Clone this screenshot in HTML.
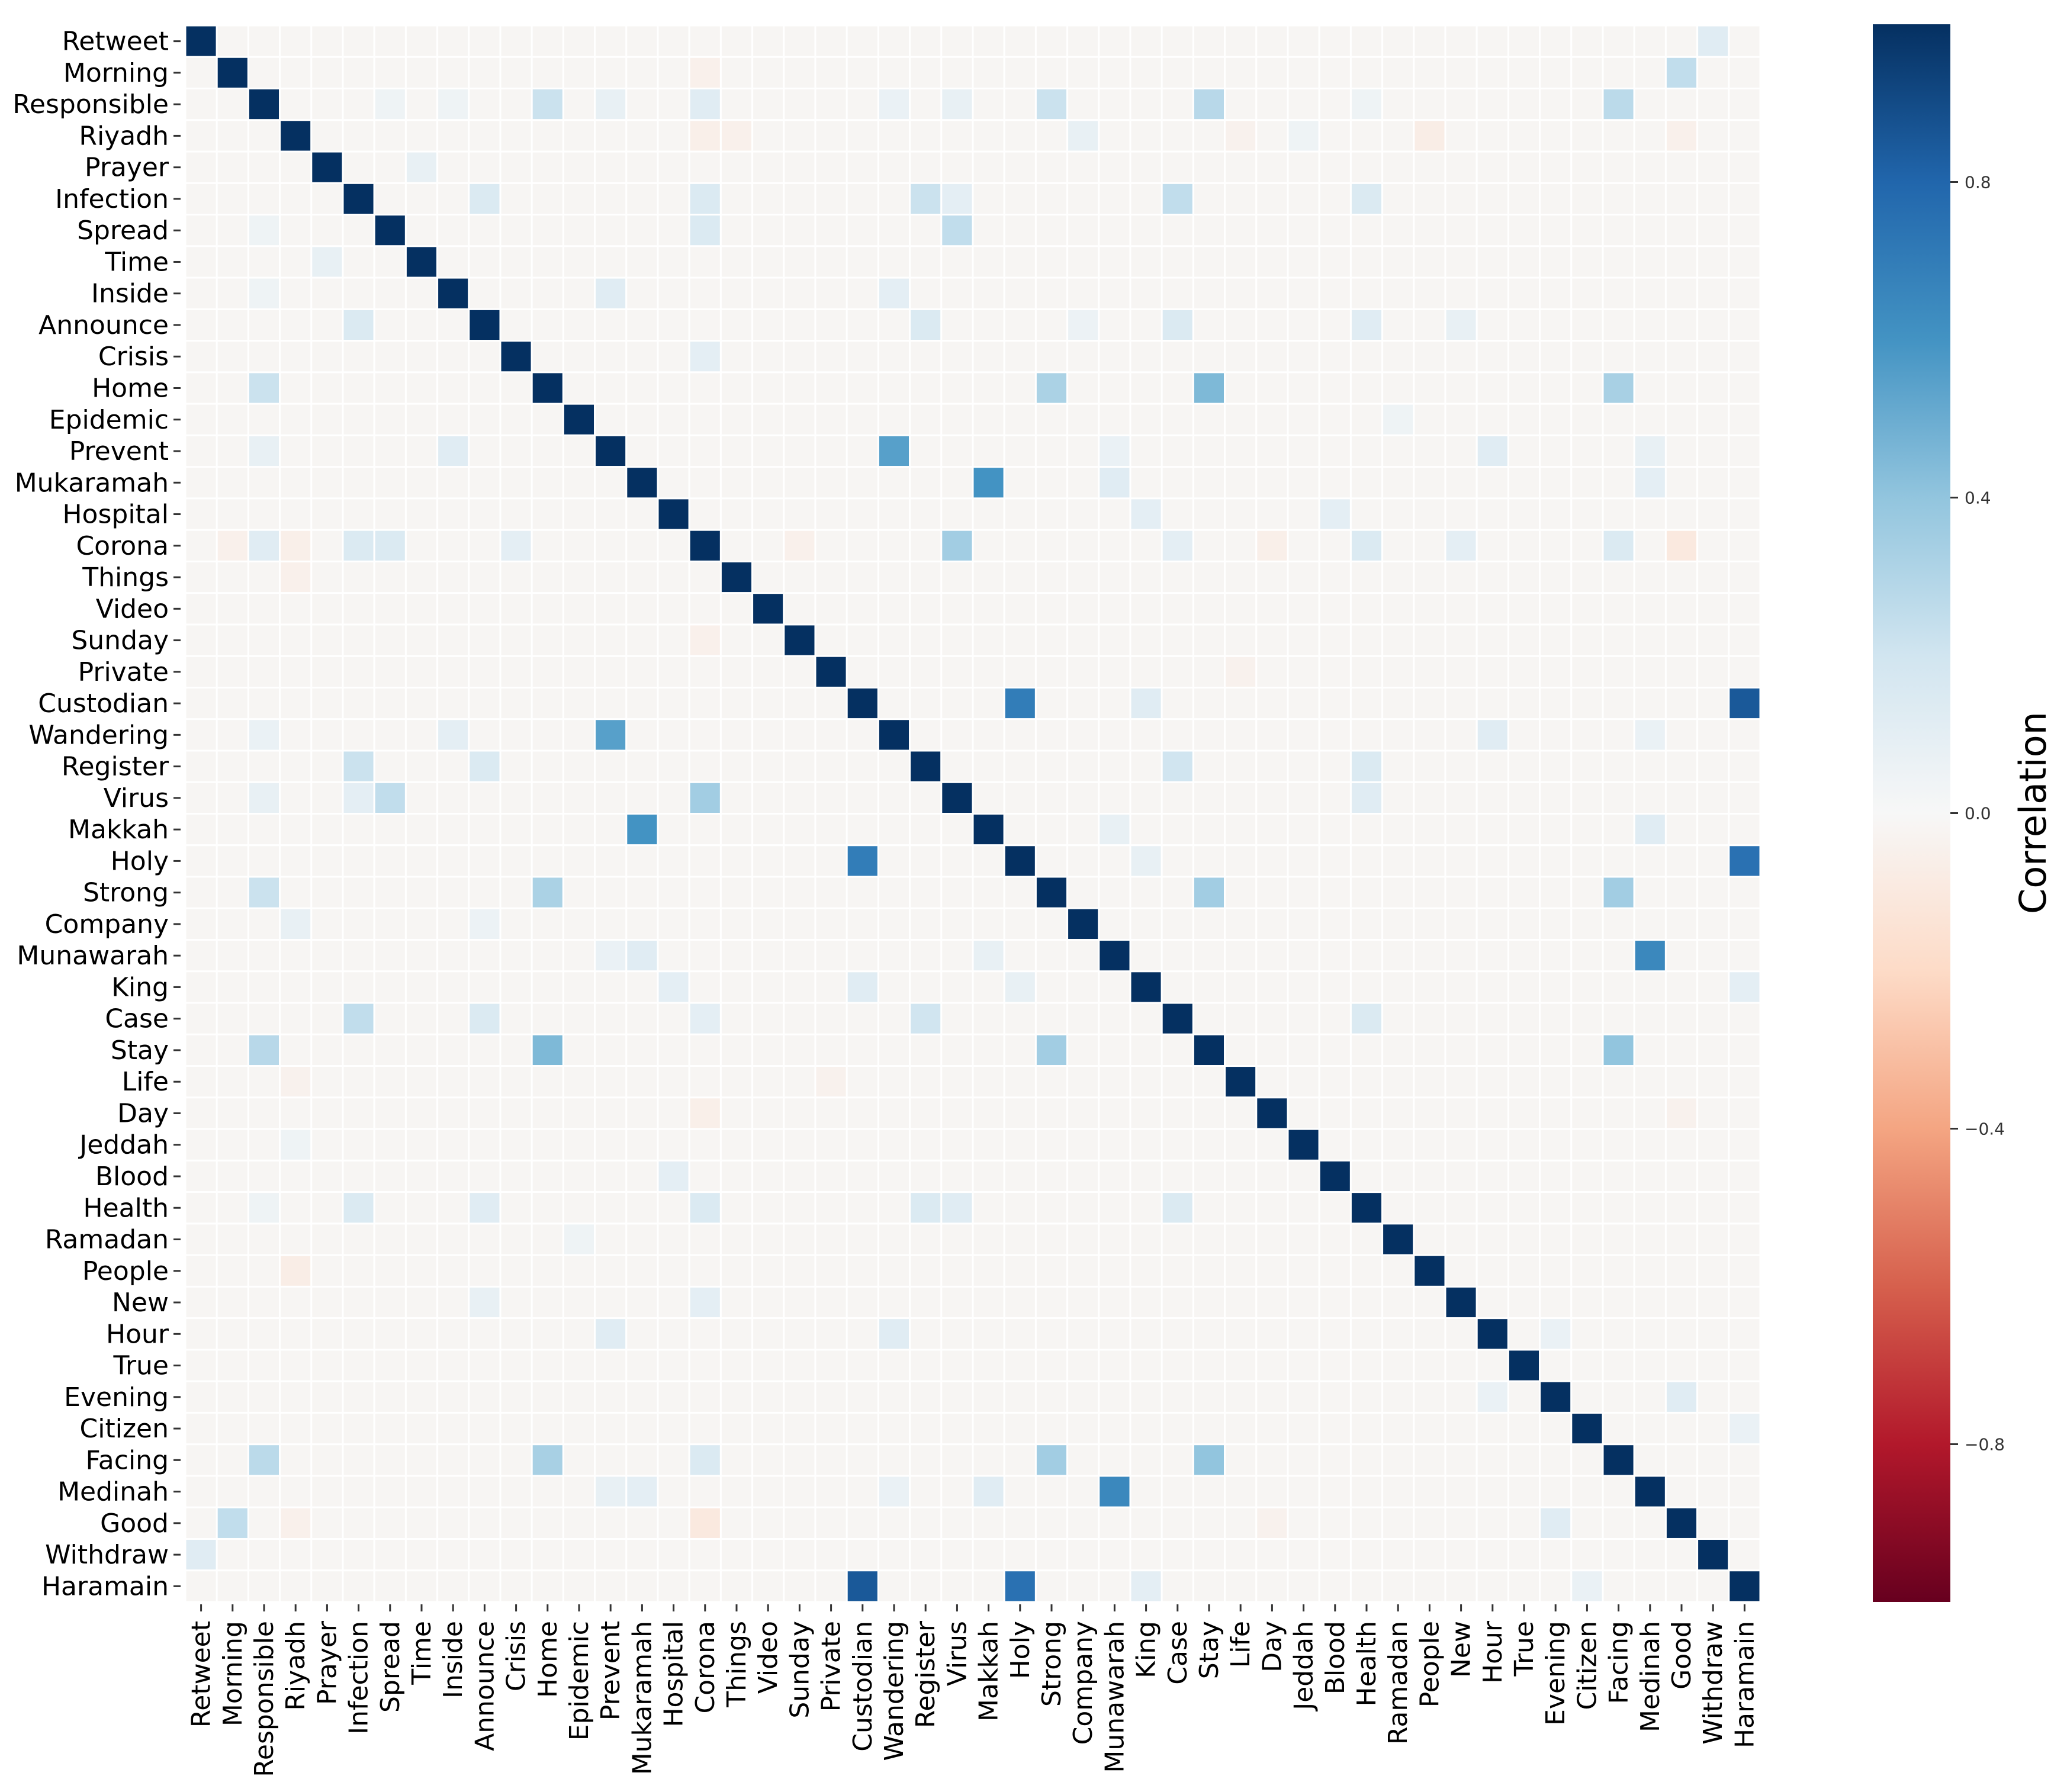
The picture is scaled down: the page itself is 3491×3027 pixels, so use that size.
<!DOCTYPE html>
<html><head><meta charset="utf-8"><style>body{margin:0;background:#fff}svg{display:block}text{font-family:"DejaVu Sans","Liberation Sans",sans-serif}</style></head>
<body>
<svg id="chart" width="3491" height="3027" xmlns="http://www.w3.org/2000/svg">
<defs><linearGradient id="cg" x1="0" y1="1" x2="0" y2="0">
<stop offset="0" stop-color="#67001f"/><stop offset="0.1" stop-color="#b2182b"/><stop offset="0.2" stop-color="#d6604d"/><stop offset="0.3" stop-color="#f4a582"/><stop offset="0.4" stop-color="#fddbc7"/><stop offset="0.5" stop-color="#f7f7f7"/><stop offset="0.6" stop-color="#d1e5f0"/><stop offset="0.7" stop-color="#92c5de"/><stop offset="0.8" stop-color="#4393c3"/><stop offset="0.9" stop-color="#2166ac"/><stop offset="1" stop-color="#053061"/></linearGradient></defs>
<g id="cells"></g>
<g id="ylabels"></g>
<g id="xlabels"></g>
<g>
<rect x="3163" y="41" width="131" height="2665" fill="url(#cg)"/>
<g id="cbticks"></g>
<text x="3455" y="1373" font-size="62" text-anchor="middle" transform="rotate(-90 3455 1373)">Correlation</text>
</g>
</svg>
<script>
const labels=["Retweet","Morning","Responsible","Riyadh","Prayer","Infection","Spread","Time","Inside","Announce","Crisis","Home","Epidemic","Prevent","Mukaramah","Hospital","Corona","Things","Video","Sunday","Private","Custodian","Wandering","Register","Virus","Makkah","Holy","Strong","Company","Munawarah","King","Case","Stay","Life","Day","Jeddah","Blood","Health","Ramadan","People","New","Hour","True","Evening","Citizen","Facing","Medinah","Good","Withdraw","Haramain"];
const pairA=["Retweet","Morning","Morning","Responsible","Responsible","Responsible","Responsible","Responsible","Responsible","Responsible","Responsible","Responsible","Responsible","Responsible","Riyadh","Riyadh","Riyadh","Riyadh","Riyadh","Riyadh","Riyadh","Prayer","Infection","Infection","Infection","Infection","Infection","Infection","Spread","Spread","Inside","Inside","Announce","Announce","Announce","Announce","Announce","Crisis","Home","Home","Home","Epidemic","Prevent","Prevent","Prevent","Prevent","Mukaramah","Mukaramah","Mukaramah","Hospital","Hospital","Corona","Corona","Corona","Corona","Corona","Corona","Custodian","Custodian","Custodian","Wandering","Wandering","Register","Register","Virus","Makkah","Makkah","Holy","Holy","Strong","Strong","Munawarah","King","Case","Stay","Hour","Evening","Citizen","Corona","Corona","Day","Life"];
const pairB=["Withdraw","Good","Corona","Home","Strong","Stay","Facing","Prevent","Corona","Virus","Wandering","Spread","Inside","Health","Corona","People","Company","Things","Good","Jeddah","Life","Time","Announce","Corona","Register","Virus","Case","Health","Corona","Virus","Prevent","Wandering","Register","Case","Health","New","Company","Corona","Strong","Stay","Facing","Ramadan","Wandering","Hour","Medinah","Munawarah","Makkah","Munawarah","Medinah","King","Blood","Virus","Health","Case","Facing","Good","New","Holy","Haramain","King","Hour","Medinah","Case","Health","Health","Medinah","Munawarah","Haramain","King","Stay","Facing","Medinah","Haramain","Health","Facing","Evening","Good","Haramain","Day","Sunday","Good","Private"];
const pairV=[0.12,0.25,-0.05,0.22,0.22,0.28,0.27,0.08,0.12,0.08,0.07,0.05,0.05,0.05,-0.06,-0.07,0.08,-0.05,-0.05,0.05,-0.04,0.08,0.15,0.15,0.22,0.1,0.25,0.15,0.15,0.25,0.12,0.1,0.15,0.15,0.12,0.08,0.06,0.1,0.32,0.45,0.33,0.05,0.55,0.12,0.08,0.07,0.6,0.12,0.1,0.1,0.1,0.35,0.15,0.1,0.15,-0.1,0.1,0.7,0.85,0.12,0.12,0.07,0.2,0.15,0.12,0.12,0.08,0.75,0.08,0.35,0.35,0.65,0.1,0.15,0.4,0.07,0.12,0.07,-0.06,-0.05,-0.04,-0.04];
const cbTicks=[0.8,0.4,0.0,-0.4,-0.8];
const cbTickLabels=["0.8","0.4","0.0","\u22120.4","\u22120.8"];
const baseV=-0.015;

const NS="http://www.w3.org/2000/svg";
const X0=313,Y0=43,W=2660,H=2663,n=labels.length,cw=W/n,ch=H/n;
const xs=i=>X0+i*cw, ys=i=>Y0+i*ch, cy=v=>41+(1-v)/2*2665;
const stops=["#67001f","#b2182b","#d6604d","#f4a582","#fddbc7","#f7f7f7","#d1e5f0","#92c5de","#4393c3","#2166ac","#053061"];
function hex(h){return [1,3,5].map(k=>parseInt(h.substr(k,2),16));}
function color(v){let t=(Math.max(-1,Math.min(1,v))+1)/2*10;let k=Math.min(9,Math.floor(t));let f=t-k;let a=hex(stops[k]),b=hex(stops[k+1]);return "rgb("+a.map((c,i)=>Math.round(c+(b[i]-c)*f)).join(",")+")";}
const M=[];for(let i=0;i<n;i++){M.push([]);for(let j=0;j<n;j++)M[i].push(i===j?1:baseV);}
pairA.forEach((a,k)=>{const i=labels.indexOf(a),j=labels.indexOf(pairB[k]);M[i][j]=pairV[k];M[j][i]=pairV[k];});
const g=document.getElementById('cells');
for(let i=0;i<n;i++)for(let j=0;j<n;j++){const r=document.createElementNS(NS,'rect');
r.setAttribute('x',xs(j));r.setAttribute('y',ys(i));r.setAttribute('width',cw);r.setAttribute('height',ch);
r.setAttribute('fill',color(M[i][j]));r.setAttribute('stroke','#fff');r.setAttribute('stroke-width','3');


g.appendChild(r);}
const yl=document.getElementById('ylabels'),xl=document.getElementById('xlabels');
labels.forEach((l,i)=>{
const t=document.createElementNS(NS,'text');t.setAttribute('x',X0-28);t.setAttribute('y',ys(i)+ch/2+15);t.setAttribute('text-anchor','end');t.setAttribute('font-size','44');t.textContent=l;


yl.appendChild(t);
const tk=document.createElementNS(NS,'line');tk.setAttribute('x1',X0-20);tk.setAttribute('x2',X0-8);tk.setAttribute('y1',ys(i)+ch/2);tk.setAttribute('y2',ys(i)+ch/2);tk.setAttribute('stroke','#333');tk.setAttribute('stroke-width','3');


yl.appendChild(tk);
const xx=xs(i)+cw/2;
const u=document.createElementNS(NS,'text');u.setAttribute('x',xx+15);u.setAttribute('y',2738);u.setAttribute('text-anchor','end');u.setAttribute('font-size','44');u.setAttribute('transform','rotate(-90 '+(xx+15)+' 2738)');u.textContent=l;


xl.appendChild(u);
const tx=document.createElementNS(NS,'line');tx.setAttribute('x1',xx);tx.setAttribute('x2',xx);tx.setAttribute('y1',2710);tx.setAttribute('y2',2722);tx.setAttribute('stroke','#333');tx.setAttribute('stroke-width','3');


xl.appendChild(tx);
});
const cb=document.getElementById('cbticks');
cbTicks.forEach((v,k)=>{const y=cy(v);
const ln=document.createElementNS(NS,'line');ln.setAttribute('x1',3294);ln.setAttribute('x2',3307);ln.setAttribute('y1',y);ln.setAttribute('y2',y);ln.setAttribute('stroke','#333');ln.setAttribute('stroke-width','3');


cb.appendChild(ln);
const t=document.createElementNS(NS,'text');t.setAttribute('x',3318);t.setAttribute('y',y+10);t.setAttribute('font-size','28');t.setAttribute('fill','#333');t.textContent=cbTickLabels[k];


cb.appendChild(t);});
</script>
</body></html>
